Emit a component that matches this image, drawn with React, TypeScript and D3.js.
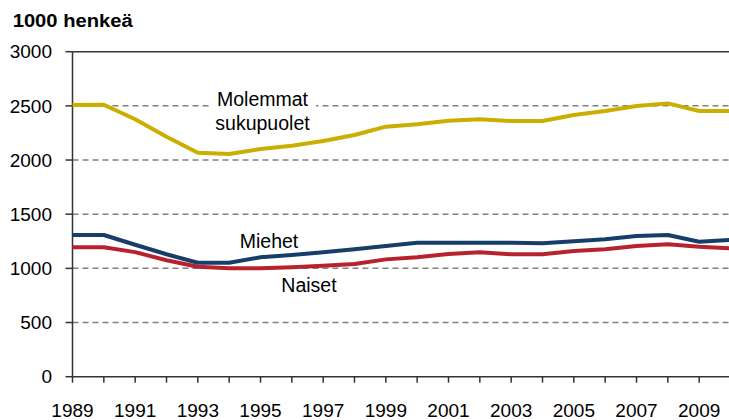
import React from "react";
import * as d3 from "d3";

// 1000 henkeä, vuosittain 1989-2010
const years = [
  1989, 1990, 1991, 1992, 1993, 1994, 1995, 1996, 1997, 1998, 1999, 2000,
  2001, 2002, 2003, 2004, 2005, 2006, 2007, 2008, 2009, 2010,
];
const molemmat = [
  2508, 2510, 2376, 2215, 2068, 2056, 2102, 2132, 2176, 2231, 2308, 2330,
  2363, 2376, 2360, 2360, 2416, 2453, 2499, 2523, 2453, 2453,
];
const miehet = [
  1308, 1308, 1218, 1130, 1052, 1052, 1102, 1123, 1148, 1176, 1206, 1237,
  1237, 1237, 1237, 1231, 1250, 1268, 1299, 1308, 1246, 1262,
];
const naiset = [
  1194, 1194, 1150, 1075, 1015, 1000, 1000, 1010, 1025, 1040, 1083, 1102,
  1133, 1148, 1130, 1130, 1160, 1176, 1206, 1222, 1200, 1185,
];
const yTicks = [0, 500, 1000, 1500, 2000, 2500, 3000];
const xLabels = [1989, 1991, 1993, 1995, 1997, 1999, 2001, 2003, 2005, 2007, 2009];

const W = 729;
const H = 420;
const font = "'Liberation Sans', Arial, sans-serif";

const App = () => {
  const x = d3.scaleLinear().domain([1989, 2010]).range([72.5, 730.5]);
  const y = d3.scaleLinear().domain([0, 3000]).range([376.7, 51.7]);

  const line = d3
    .line<number>()
    .x((d, i) => x(years[i]))
    .y((d) => y(d));

  const series = [
    { name: "Molemmat", values: molemmat, color: "#CBAE00" },
    { name: "Naiset", values: naiset, color: "#B8222E" },
    { name: "Miehet", values: miehet, color: "#173E6B" },
  ];

  const x0 = x(1989);
  const yTop = y(3000);
  const yBot = y(0);

  return (
    <svg
      width={W}
      height={H}
      style={{ position: "absolute", left: 0, top: 0, background: "#fff" }}
      fontFamily={font}
    >
      <text x={12.7} y={27.3} fontWeight="bold" fontSize={18} textLength={120} lengthAdjust="spacingAndGlyphs" fill="#000">
        1000 henkeä
      </text>

      {/* grid */}
      {yTicks
        .filter((t) => t > 0 && t < 3000)
        .map((t) => (
          <line
            key={t}
            x1={x0}
            x2={W}
            y1={y(t)}
            y2={y(t)}
            stroke="#808080"
            strokeWidth={1.5}
            strokeDasharray="6,4"
          />
        ))}
      <line x1={x0} x2={W} y1={yTop} y2={yTop} stroke="#333" strokeWidth={1.5} />

      {/* y axis */}
      <line x1={x0} x2={x0} y1={yTop} y2={yBot} stroke="#333" strokeWidth={1.5} />
      {yTicks.map((t) => (
        <g key={t}>
          <line x1={x0 - 7} x2={x0} y1={y(t)} y2={y(t)} stroke="#333" strokeWidth={1.5} />
          <text x={52} y={y(t)} dy="0.35em" textAnchor="end" fontSize={19} fill="#000">
            {t}
          </text>
        </g>
      ))}

      {/* x axis */}
      <line x1={x0} x2={W} y1={yBot} y2={yBot} stroke="#333" strokeWidth={1.5} />
      {years.map((yr) => (
        <line key={yr} x1={x(yr)} x2={x(yr)} y1={yBot} y2={yBot + 6} stroke="#333" strokeWidth={1.5} />
      ))}
      {xLabels.map((yr) => (
        <text key={yr} x={x(yr)} y={416.5} textAnchor="middle" fontSize={19} fill="#000">
          {yr}
        </text>
      ))}

      {/* label background for Molemmat */}
      <rect x={209} y={92} width={107} height={16} fill="#fff" />

      {series.map((s) => (
        <path
          key={s.name}
          d={line(s.values) || ""}
          fill="none"
          stroke={s.color}
          strokeWidth={4}
          strokeLinejoin="round"
        />
      ))}

      <text x={262.5} y={105.7} textAnchor="middle" fontSize={19.5} fill="#000">
        Molemmat
      </text>
      <text x={262.5} y={130} textAnchor="middle" fontSize={19.5} fill="#000">
        sukupuolet
      </text>
      <text x={269} y={248.3} textAnchor="middle" fontSize={19.5} fill="#000">
        Miehet
      </text>
      <text x={309} y={292} textAnchor="middle" fontSize={19.5} fill="#000">
        Naiset
      </text>
    </svg>
  );
};

export default App;
